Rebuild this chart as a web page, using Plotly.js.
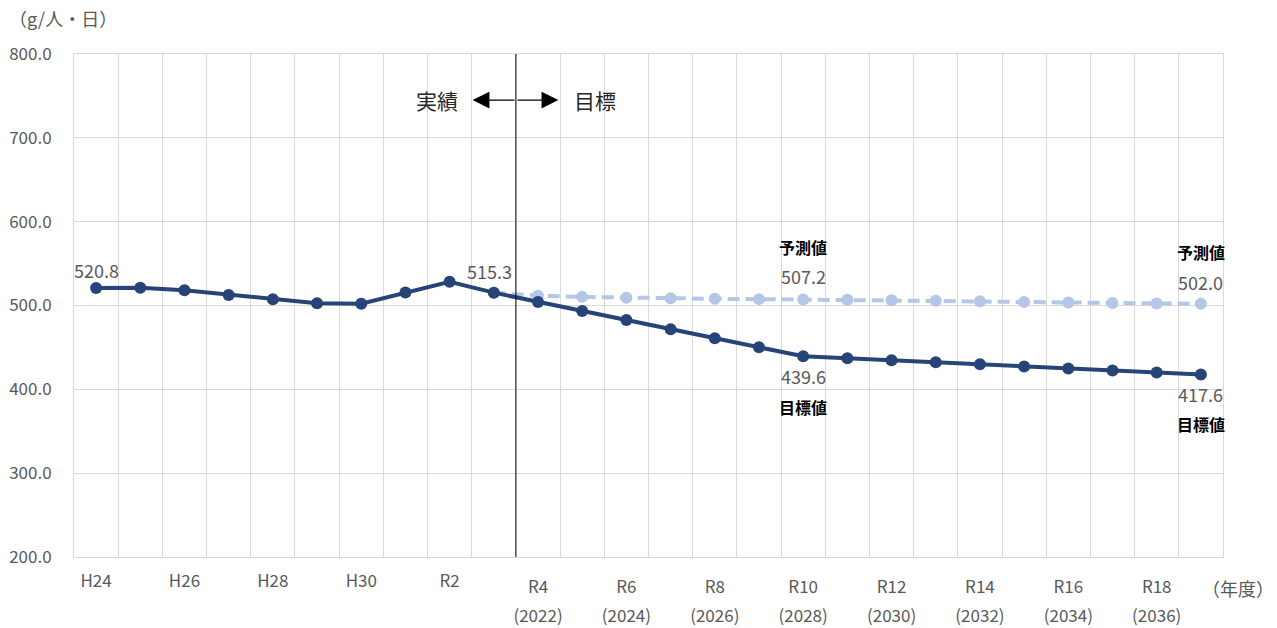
<!DOCTYPE html>
<html><head><meta charset="utf-8">
<script src="https://cdn.plot.ly/plotly-3.0.1.min.js"></script>
<style>html,body{margin:0;padding:0;background:#fff}</style>
</head><body>
<div id="chart" style="width:1277px;height:628px"></div>
<script>
// ---- data ----
const categories = ['H24','H25','H26','H27','H28','H29','H30','R1','R2','R3',
  'R4','R5','R6','R7','R8','R9','R10','R11','R12','R13','R14','R15','R16','R17','R18','R19'];
const tickCategoriesH = ['H24','H26','H28','H30','R2'];
const tickCategoriesR = ['R4','R6','R8','R10','R12','R14','R16','R18'];
const tickYears = ['(2022)','(2024)','(2026)','(2028)','(2030)','(2032)','(2034)','(2036)'];
// 実績 H24..R3
const actualValues = [520.8, 521.2, 518.1, 512.6, 507.5, 502.7, 502.2, 515.4, 528.4, 515.3];
// 目標 R4..R19
const targetValues = [504.3, 493.4, 482.7, 471.8, 461.0, 450.2, 439.6, 437.1, 434.6, 432.2, 429.8, 427.3, 424.9, 422.4, 420.0, 417.6];
// 予測 R3..R19
const predictionValues = [515.3, 511.6, 510.3, 509.3, 508.6, 508.0, 507.6, 507.2, 506.8, 506.2, 505.7, 505.0, 504.2, 503.6, 503.0, 502.5, 502.0];

const DARK = '#264478', LIGHT = '#b4c7e7', GRID = '#d9d9d9', TXT = '#595959';
const FONT = '"Noto Sans CJK JP", "Noto Sans", sans-serif';

const idx = categories.map((c, i) => i);
const lastActual = actualValues.length - 1;           // R3
const mainValues = actualValues.concat(targetValues);
const predX = predictionValues.map((v, i) => lastActual + i);
const tickIdxH = tickCategoriesH.map(c => categories.indexOf(c));
const tickIdxR = tickCategoriesR.map(c => categories.indexOf(c));

const traces = [
  {x: predX, y: predictionValues, xaxis: 'x2', yaxis: 'y', type: 'scatter', mode: 'lines+markers',
   line: {color: LIGHT, width: 4, dash: '12px,6px'}, marker: {color: LIGHT, size: 12},
   hoverinfo: 'skip', showlegend: false},
  {x: idx, y: mainValues, xaxis: 'x3', yaxis: 'y', type: 'scatter', mode: 'lines+markers',
   line: {color: DARK, width: 4}, marker: {color: DARK, size: 12},
   hoverinfo: 'skip', showlegend: false}
];

const xr = [-0.5, categories.length - 0.5];
const pY = py => (557 - py) / 503;

function valLabel(i, v, text, yshift, bold, xshift) {
  return {x: i, y: v, xref: 'x', yref: 'y', text: bold ? '<b>' + text + '</b>' : text,
    showarrow: false, yshift: yshift, xshift: xshift || 0,
    font: {family: FONT, size: bold ? 16 : 18, color: bold ? '#000000' : TXT}};
}
const i10 = categories.indexOf('R10'), i19 = categories.indexOf('R19');
const pv10 = predictionValues[i10 - lastActual], pv19 = predictionValues[i19 - lastActual];
const tv10 = mainValues[i10], tv19 = mainValues[i19];
const arrowY = 745;

const annotations = [
  {xref: 'paper', yref: 'paper', x: -0.058, y: pY(18), xanchor: 'left', yanchor: 'middle',
   text: '（g/人・日）', showarrow: false, font: {family: FONT, size: 18, color: TXT}},
  {xref: 'paper', yref: 'paper', x: (1238 - 74) / 1149, y: pY(588), xanchor: 'center', yanchor: 'middle',
   text: '（年度）', showarrow: false, font: {family: FONT, size: 18, color: TXT}},
  valLabel(0, mainValues[0], mainValues[0].toFixed(1), 18),
  valLabel(lastActual, mainValues[lastActual], mainValues[lastActual].toFixed(1), 22, false, -4),
  valLabel(i10, pv10, pv10.toFixed(1), 23),
  valLabel(i10, pv10, '予測値', 52, true),
  valLabel(i10, tv10, tv10.toFixed(1), -20),
  valLabel(i10, tv10, '目標値', -51, true),
  valLabel(i19, pv19, pv19.toFixed(1), 22),
  valLabel(i19, pv19, '予測値', 52, true),
  valLabel(i19, tv19, tv19.toFixed(1), -19),
  valLabel(i19, tv19, '目標値', -49, true),
  // double arrow
  {x: lastActual + 0.5 - 0.98, y: arrowY, xref: 'x', yref: 'y', ax: lastActual + 0.5, ay: arrowY,
   axref: 'x', ayref: 'y', text: '', showarrow: true, arrowhead: 2, arrowsize: 2.8, arrowwidth: 1.2, arrowcolor: '#000000'},
  {x: lastActual + 0.5 + 0.96, y: arrowY, xref: 'x', yref: 'y', ax: lastActual + 0.5, ay: arrowY,
   axref: 'x', ayref: 'y', text: '', showarrow: true, arrowhead: 2, arrowsize: 2.8, arrowwidth: 1.2, arrowcolor: '#000000'},
  {x: lastActual + 0.5 - 1.26, y: arrowY, xref: 'x', yref: 'y', xanchor: 'right', yanchor: 'middle',
   text: '実績', showarrow: false, font: {family: FONT, size: 21, color: '#262626'}},
  {x: lastActual + 0.5 + 1.26, y: arrowY, xref: 'x', yref: 'y', xanchor: 'left', yanchor: 'middle',
   text: '目標', showarrow: false, font: {family: FONT, size: 21, color: '#262626'}}
];

const hiddenTicks = {ticks: 'outside', tickcolor: 'rgba(0,0,0,0)', tickfont: {family: FONT, size: 17, color: TXT}};

const layout = {
  width: 1277, height: 628,
  margin: {l: 74, r: 54, t: 54, b: 71},
  paper_bgcolor: '#ffffff', plot_bgcolor: '#ffffff',
  showlegend: false,
  font: {family: FONT, color: TXT, size: 17},
  xaxis: Object.assign({range: xr, tickmode: 'array', tickvals: tickIdxH, ticktext: tickCategoriesH,
    showgrid: false, zeroline: false, showline: true, linecolor: GRID, linewidth: 1, mirror: true,
    ticklen: 9,
    minor: {tickmode: 'linear', tick0: 0.5, dtick: 1, showgrid: true, gridcolor: GRID, gridwidth: 1, ticks: ''}}, hiddenTicks),
  xaxis2: Object.assign({range: xr, overlaying: 'x', anchor: 'y', side: 'bottom', tickmode: 'array',
    tickvals: tickIdxR, ticktext: tickCategoriesR, showgrid: false, zeroline: false, showline: false,
    ticklen: 15}, hiddenTicks),
  xaxis3: Object.assign({range: xr, overlaying: 'x', anchor: 'y', side: 'bottom', tickmode: 'array',
    tickvals: tickIdxR, ticktext: tickYears, showgrid: false, zeroline: false, showline: false,
    ticklen: 44}, hiddenTicks),
  yaxis: Object.assign({range: [200, 800], dtick: 100, tick0: 200, tickformat: '.1f',
    showgrid: true, gridcolor: GRID, gridwidth: 1, zeroline: false,
    showline: true, linecolor: GRID, linewidth: 1, mirror: true,
    ticklen: 18}, hiddenTicks),
  shapes: [
    {type: 'line', xref: 'x', yref: 'paper', x0: lastActual + 0.5, x1: lastActual + 0.5, y0: 0, y1: 1,
     line: {color: '#000000', width: 1}}
  ],
  annotations: annotations
};

Plotly.newPlot('chart', traces, layout, {staticPlot: true, displayModeBar: false});
</script>
</body></html>
